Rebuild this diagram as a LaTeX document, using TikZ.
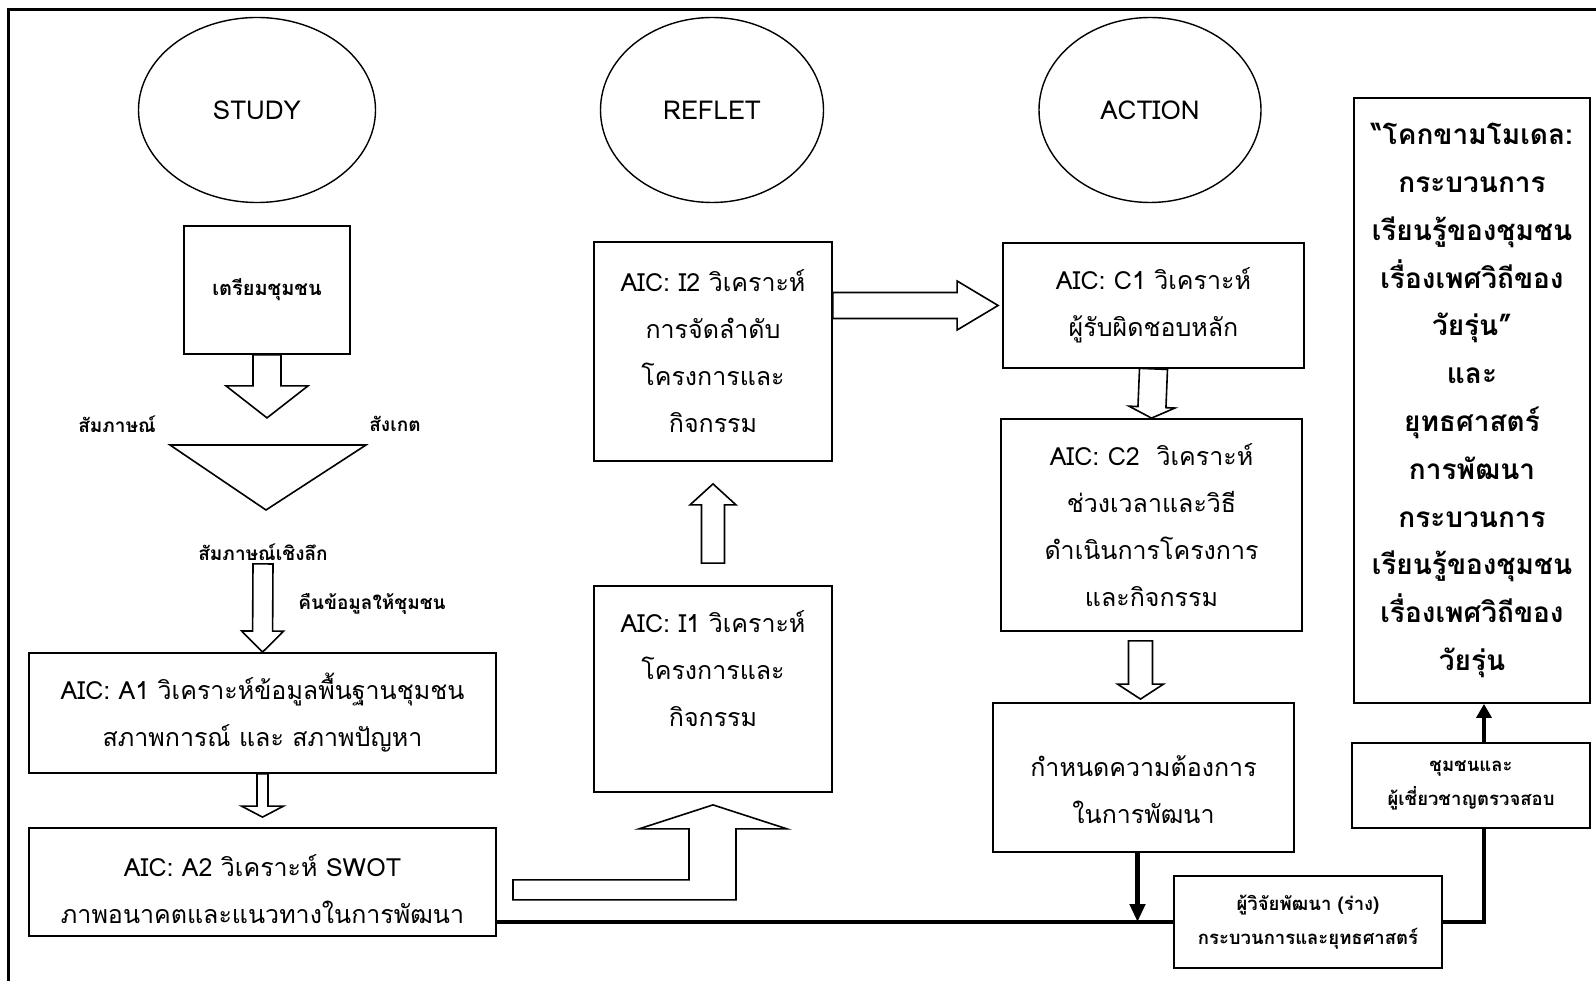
\documentclass[tikz,border=0pt]{standalone}
\usepackage{fontspec}
\setmainfont[Script=Thai]{Loma}
\usetikzlibrary{calc,arrows.meta,shapes.geometric,positioning}

\tikzset{
  phase/.style={draw,ellipse,line width=1.4pt,minimum width=223pt,minimum height=185pt,
    inner sep=0pt,font=\fontsize{26}{30}\selectfont},
  aicbox/.style={draw,line width=1.8pt,align=center,inner sep=0pt,
    font=\fontsize{25}{47}\selectfont},
  smallbox/.style={draw,line width=1.8pt,align=center,inner sep=0pt,
    font=\bfseries\fontsize{18.5}{34}\selectfont},
  tag/.style={font=\bfseries\fontsize{19}{22}\selectfont},
  blockarrow/.style={draw,fill=white,line width=1.6pt,line join=miter},
  busline/.style={line width=4.5pt}
}

\newcommand{\flowarrow}[5]{%
  \coordinate (fa-b) at ($(#2)!#5!(#1)$);
  \draw[blockarrow] ($(#1)!#3!90:(#2)$) -- ($(fa-b)!#3!-90:(#1)$) -- ($(fa-b)!#4!-90:(#1)$)
    -- (#2) -- ($(fa-b)!#4!90:(#1)$) -- ($(fa-b)!#3!90:(#1)$) -- ($(#1)!#3!-90:(#2)$) -- cycle;}

\begin{document}
\begin{tikzpicture}[x=1pt,y=-1pt]
  \useasboundingbox (0,0) rectangle (1596,981);
  \draw[line width=3pt] (8.5,981) -- (8.5,9.5) -- (1596,9.5);

  \node[phase,minimum width=237pt] (study) at (257,110) {STUDY};
  \node[phase] (reflet) at (712,110) {REFLET};
  \node[phase,minimum width=222pt] (action) at (1150,110) {ACTION};

  \node[draw,line width=1.8pt,minimum width=166pt,minimum height=128pt,inner sep=0pt,
    font=\bfseries\fontsize{20}{24}\selectfont] (prep) at (267,290) {เตรียมชุมชน};
  \node[tag] (interview) at (117,424) {สัมภาษณ์};
  \node[tag] (observe) at (395,424) {สังเกต};
  \draw[line width=1.6pt,line join=miter] (170,445) -- (366,445) -- (266,510) -- cycle;
  \node[tag] (indepth) at (263,552) {สัมภาษณ์เชิงลึก};
  \node[tag] (feedback) at (372,604) {คืนข้อมูลให้ชุมชน};

  \node[aicbox,minimum width=467pt,minimum height=120pt] (a1) at (262.5,713)
    {AIC: A1 วิเคราะห์ข้อมูลพื้นฐานชุมชน\\สภาพการณ์ และ สภาพปัญหา};
  \node[aicbox,minimum width=467pt,minimum height=108pt,text height=83pt] (a2) at (262.5,882)
    {AIC: A2 วิเคราะห์ SWOT\\ภาพอนาคตและแนวทางในการพัฒนา};
  \node[aicbox,minimum width=238pt,minimum height=206pt,text depth=41pt] (i1) at (713,689)
    {AIC: I1 วิเคราะห์\\โครงการและ\\กิจกรรม};
  \node[aicbox,minimum width=238pt,minimum height=219pt] (i2) at (713,351.5)
    {AIC: I2 วิเคราะห์\\การจัดลำดับ\\โครงการและ\\กิจกรรม};
  \node[aicbox,minimum width=301pt,minimum height=125pt] (c1) at (1153.5,305.5)
    {AIC: C1 วิเคราะห์\\ผู้รับผิดชอบหลัก};
  \node[aicbox,minimum width=301pt,minimum height=212pt] (c2) at (1151.5,525)
    {AIC: C2~~วิเคราะห์\\ช่วงเวลาและวิธี\\ดำเนินการโครงการ\\และกิจกรรม};
  \node[aicbox,minimum width=301pt,minimum height=149pt,text height=93pt] (need) at (1143.5,777.5)
    {กำหนดความต้องการ\\ในการพัฒนา};
  \node[smallbox,minimum width=268pt,minimum height=92pt] (draft) at (1308,922)
    {ผู้วิจัยพัฒนา (ร่าง)\\กระบวนการและยุทธศาสตร์};
  \node[smallbox,minimum width=238pt,minimum height=85pt] (review) at (1471,785.5)
    {ชุมชนและ\\ผู้เชี่ยวชาญตรวจสอบ};
  \node[draw,line width=1.8pt,align=center,inner sep=0pt,minimum width=236pt,minimum height=605pt,
    font=\bfseries\fontsize{28}{47.8}\selectfont] (model) at (1472,400.5)
    {“โคกขามโมเดล:\\กระบวนการ\\เรียนรู้ของชุมชน\\เรื่องเพศวิถีของ\\วัยรุ่น”\\และ\\ยุทธศาสตร์\\การพัฒนา\\กระบวนการ\\เรียนรู้ของชุมชน\\เรื่องเพศวิถีของ\\วัยรุ่น};

  \coordinate (p1) at ($(prep.south)+(0,63)$);
  \flowarrow{prep.south}{p1}{14pt}{41pt}{32pt}
  \flowarrow{indepth.south}{a1.north}{10pt}{21pt}{21pt}
  \coordinate (r1) at ($(a2.north)+(0,-10)$);
  \flowarrow{a1.south}{r1}{5.5pt}{21pt}{11pt}
  \coordinate (s0) at ($(i1.north)+(0,-22)$);
  \coordinate (s1) at ($(i2.south)+(0,22)$);
  \flowarrow{s0}{s1}{11.5pt}{23pt}{21pt}
  \coordinate (t0) at (i2.east |- c1.west);
  \coordinate (t1) at ($(c1.west)+(-4,0)$);
  \flowarrow{t0}{t1}{13pt}{24.5pt}{41pt}
  \flowarrow{c1.south}{c2.north}{14pt}{23pt}{11pt}
  \coordinate (u0) at ($(c2.south)+(-11,9)$);
  \coordinate (u1) at ($(need.north)+(-3,-3)$);
  \flowarrow{u0}{u1}{12pt}{23pt}{15pt}

  \coordinate (ltip) at ($(i1.south)+(0,12)$);
  \draw[blockarrow] ($(ltip)+(-200,75)$) -- ($(ltip)+(-24,75)$) -- ($(ltip)+(-24,24)$)
    -- ($(ltip)+(-74,24)$) -- (ltip) -- ($(ltip)+(74,24)$) -- ($(ltip)+(23,24)$)
    -- ($(ltip)+(23,95)$) -- ($(ltip)+(-200,95)$) -- cycle;

  \draw[busline] (a2.east |- draft.west) -- (draft.west);
  \coordinate (v0) at ($(need.south)+(-6,0)$);
  \draw[busline,-{Triangle[length=18pt,width=15pt]}] (v0) -- (v0 |- draft.west);
  \draw[busline] (draft.east) -| ($(review.south)+(13,0)$);
  \draw[busline,-{Triangle[length=14pt,width=15pt]}] ($(review.north)+(13,0)$) -- ($(model.south)+(12,0)$);
\end{tikzpicture}
\end{document}
